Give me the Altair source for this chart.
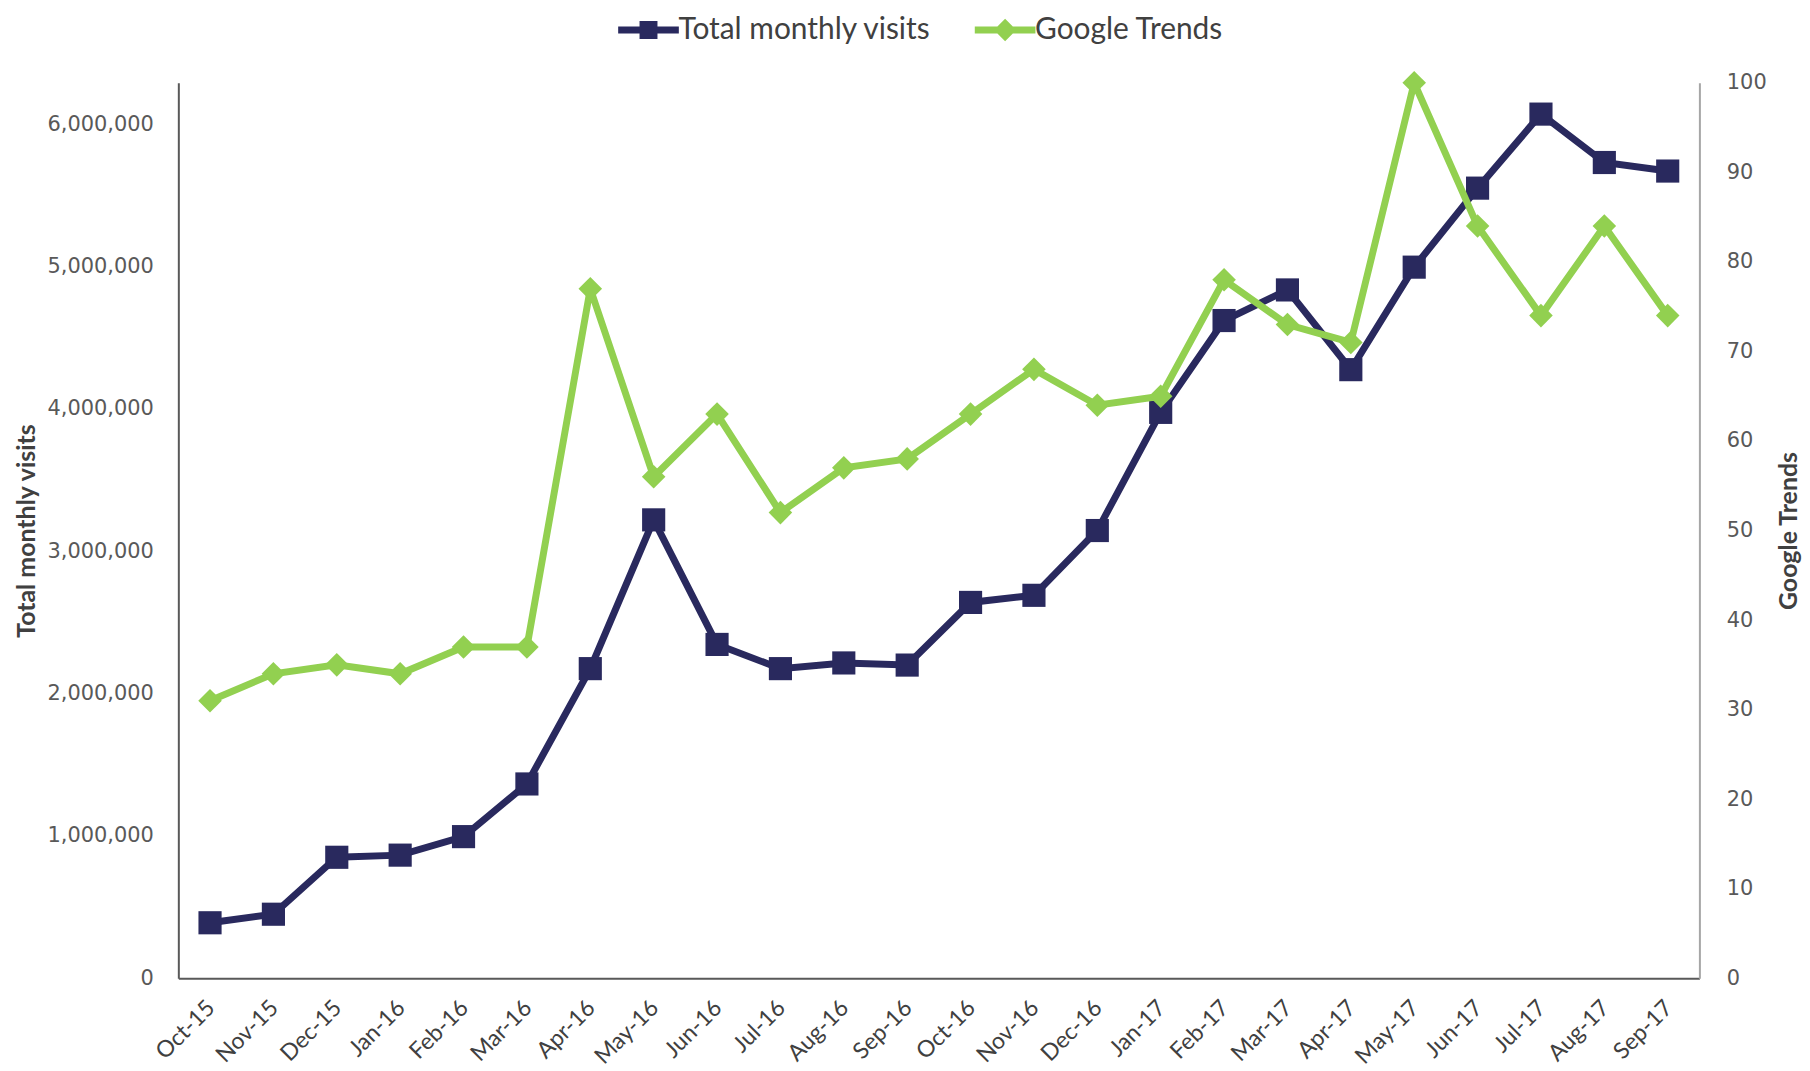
import altair as alt
import pandas as pd

months = ["Oct-15", "Nov-15", "Dec-15", "Jan-16", "Feb-16", "Mar-16", "Apr-16", "May-16",
          "Jun-16", "Jul-16", "Aug-16", "Sep-16", "Oct-16", "Nov-16", "Dec-16", "Jan-17",
          "Feb-17", "Mar-17", "Apr-17", "May-17", "Jun-17", "Jul-17", "Aug-17", "Sep-17"]
visits = [390000, 450000, 850000, 865000, 995000, 1365000, 2175000, 3220000,
          2345000, 2175000, 2215000, 2200000, 2640000, 2690000, 3145000, 3975000,
          4620000, 4835000, 4275000, 4995000, 5550000, 6070000, 5730000, 5670000]
trends = [31, 34, 35, 34, 37, 37, 77, 56,
          63, 52, 57, 58, 63, 68, 64, 65,
          78, 73, 71, 100, 84, 74, 84, 74]
series = ["Total monthly visits", "Google Trends"]
left_ticks = [0, 1000000, 2000000, 3000000, 4000000, 5000000, 6000000]
right_ticks = [0, 10, 20, 30, 40, 50, 60, 70, 80, 90, 100]

NAVY = "#29295E"
GREEN = "#92D050"

df = pd.DataFrame({"month": months, "visits": visits, "trends": trends})
df["series"] = series[0]

base = alt.Chart(df)

x = alt.X("month:N", sort=months,
          scale=alt.Scale(type="point", padding=0.5),
          axis=alt.Axis(title=None, labelAngle=-45, labelFont="Lato", labelFontSize=23,
                        labelColor="#404040", ticks=False, tickSize=0, labelPadding=18,
                        labelOffset=-7, domainColor="#595959", domainWidth=2))

yL = alt.Y("visits:Q",
           scale=alt.Scale(domain=[0, 6290000], nice=False, zero=True),
           axis=alt.Axis(title="Total monthly visits", values=left_ticks, format=",d",
                         grid=False, ticks=False, tickSize=0,
                         labelFont="DejaVu Sans", labelFontSize=21, labelColor="#595959",
                         labelPadding=25, domainColor="#595959", domainWidth=2,
                         titleFont="Lato", titleFontSize=25, titleFontWeight="bold",
                         titleColor="#404040", titlePadding=8))

yR = alt.Y("trends:Q",
           scale=alt.Scale(domain=[0, 100], nice=False),
           axis=alt.Axis(title="Google Trends", orient="right", values=right_ticks,
                         grid=False, ticks=False, tickSize=0,
                         labelFont="DejaVu Sans", labelFontSize=21, labelColor="#595959",
                         labelPadding=27, domainColor="#A6A6A6", domainWidth=2,
                         titleFont="Lato", titleFontSize=25, titleFontWeight="bold",
                         titleColor="#404040", titlePadding=35, titleAngle=270))

line_l = base.mark_line(color=NAVY, strokeWidth=7).encode(x=x, y=yL)
pts_l = base.mark_point(shape="square", filled=True, color=NAVY, size=540, opacity=1).encode(x=x, y=yL)

legend_layer = base.mark_point(filled=True, opacity=1).encode(
    x=x,
    y=yL,
    color=alt.Color("series:N", scale=alt.Scale(domain=series, range=[NAVY, GREEN]),
                    legend=alt.Legend(title=None, orient="none", legendX=457, legendY=-68,
                                      direction="horizontal",
                                      labelFont="Lato", labelFontSize=30, labelColor="#404040",
                                      symbolSize=900, symbolStrokeWidth=0, labelOffset=15,
                                      columnPadding=43, labelLimit=500)),
    shape=alt.Shape("series:N", scale=alt.Scale(
        domain=series,
        range=["M-2.03,-0.23H2.03V0.23H-2.03Z M-0.6,-0.6H0.6V0.6H-0.6Z",
               "M-2.03,-0.23H2.03V0.23H-2.03Z M0,-0.75L0.75,0L0,0.75L-0.75,0Z"]))
).transform_filter("datum.visits < 0")

left = alt.layer(line_l, pts_l, legend_layer)

line_r = base.mark_line(color=GREEN, strokeWidth=7).encode(x=x, y=yR)
pts_r = base.mark_point(shape="diamond", filled=True, color=GREEN, size=560, opacity=1).encode(x=x, y=yR)
right = alt.layer(line_r, pts_r)

chart = alt.layer(left, right).resolve_scale(y="independent").properties(
    width=1527, height=899,
    padding={"left": 6, "top": 5, "right": 0, "bottom": 0}
).configure_view(stroke=None)

chart.save("out.html", embed_options={"renderer": "svg", "actions": False})
